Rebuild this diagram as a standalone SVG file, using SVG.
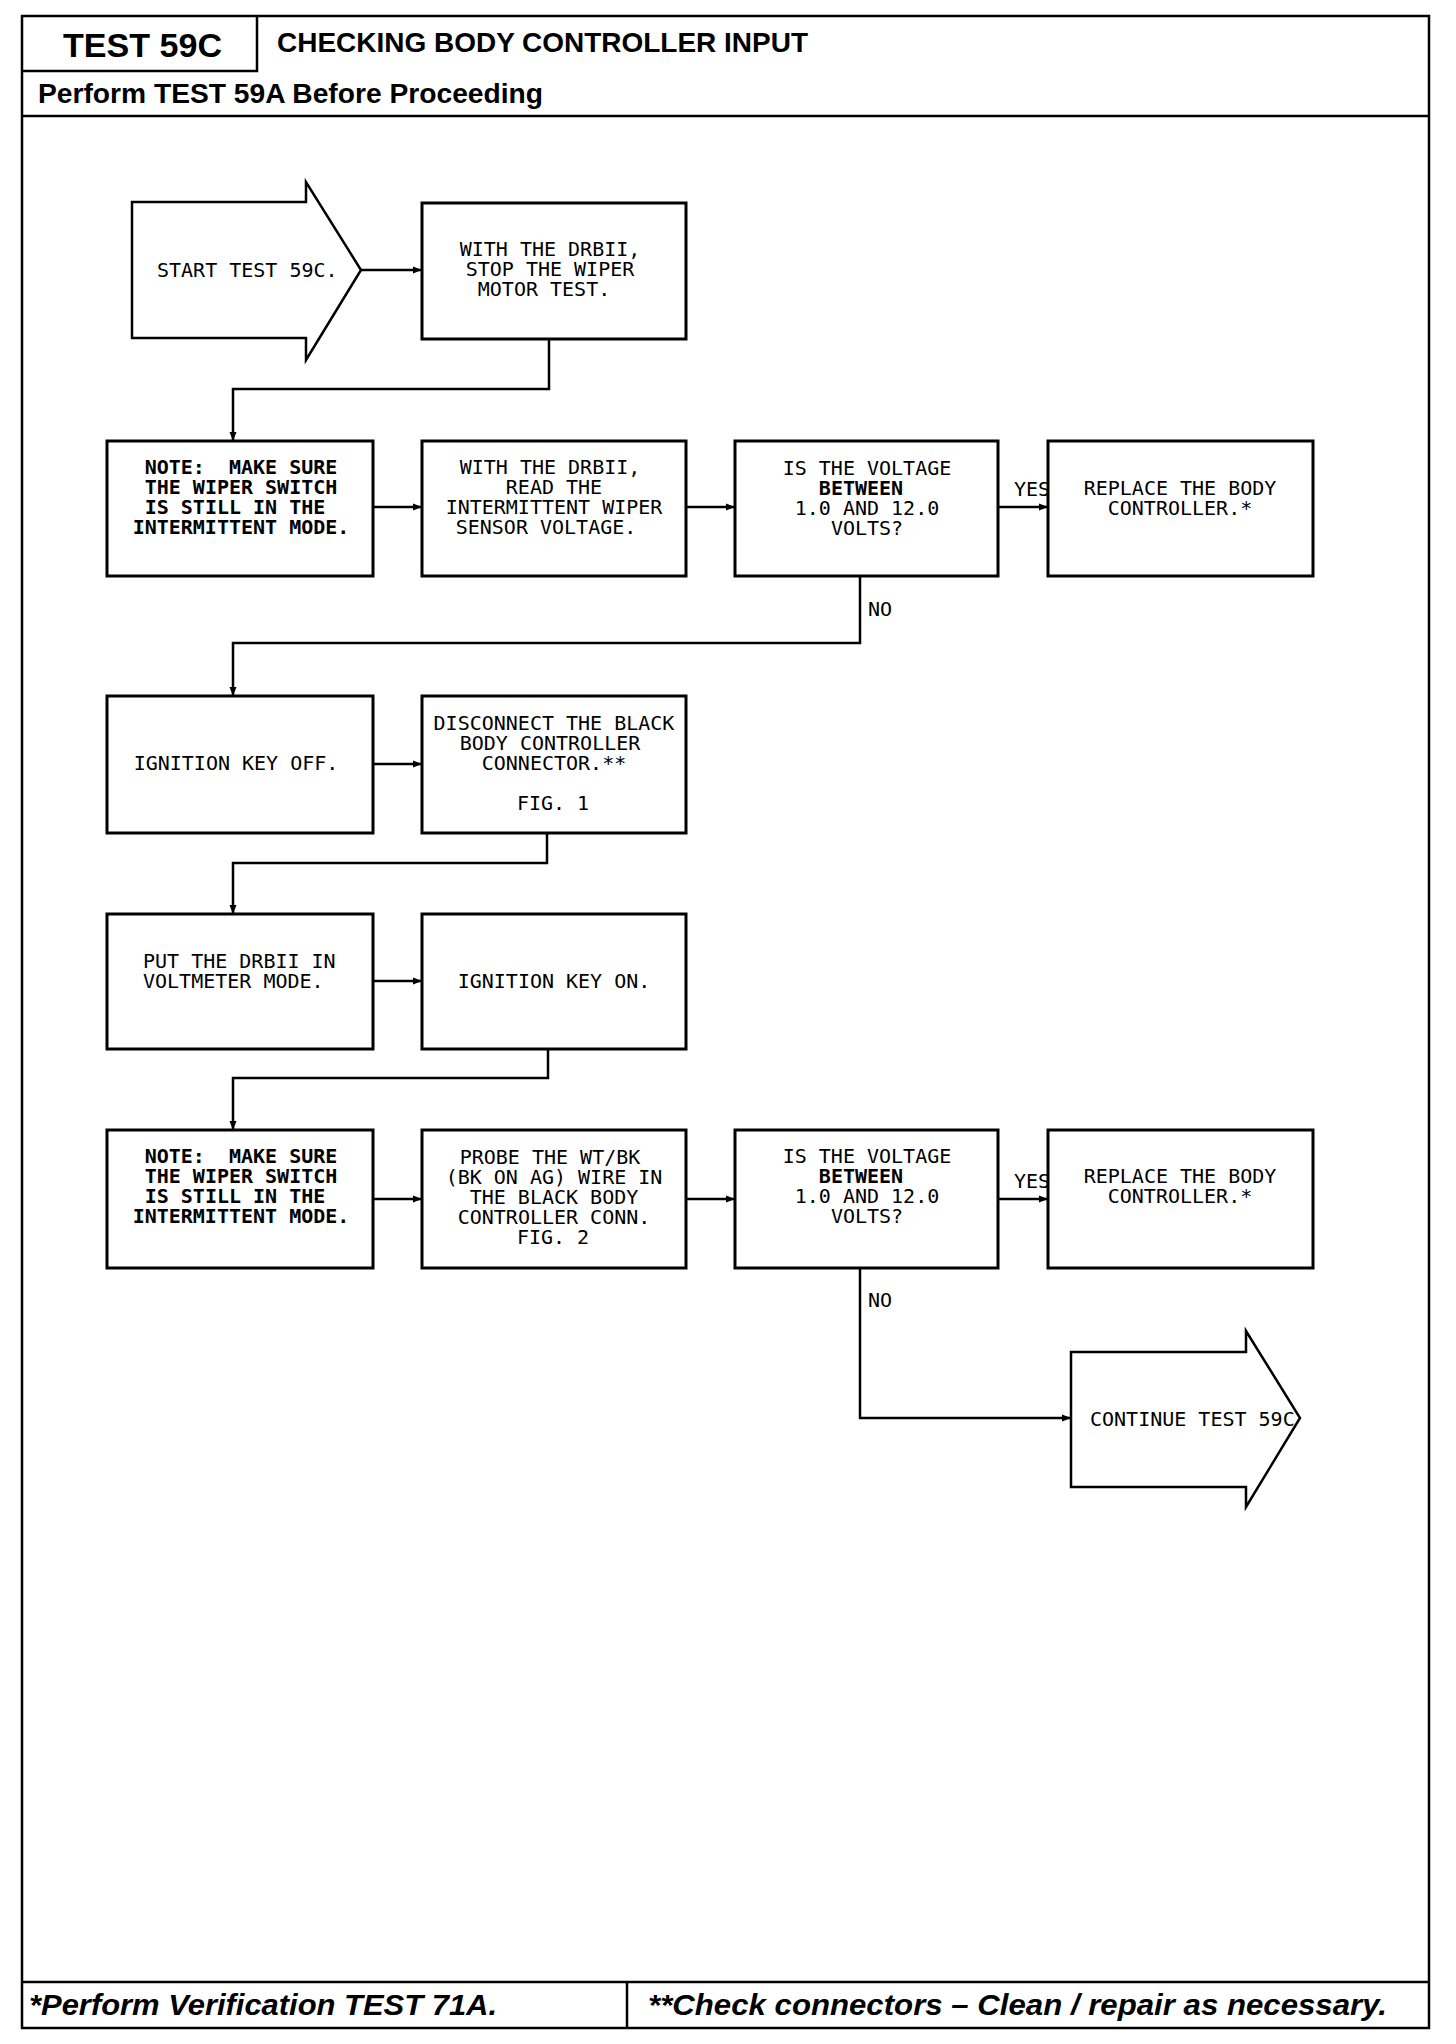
<svg xmlns="http://www.w3.org/2000/svg" width="1456" height="2044" viewBox="0 0 1456 2044">
<style>
.frame{fill:none;stroke:#000;stroke-width:2.5}
.box{fill:#fff;stroke:#000;stroke-width:3}
.shape{fill:#fff;stroke:#000;stroke-width:2.5;stroke-linejoin:miter}
.conn{fill:none;stroke:#000;stroke-width:2.5}
.t{font-family:"DejaVu Sans Mono","Liberation Mono",monospace;font-size:20px;fill:#000;white-space:pre}
.c{text-anchor:middle}
.b{font-weight:bold}
.h{font-family:"Liberation Sans",Arial,sans-serif;font-weight:bold;fill:#000}
.f{font-family:"Liberation Sans",Arial,sans-serif;font-weight:bold;font-style:italic;fill:#000;font-size:30px}
</style>
<defs>
<marker id="ah" markerUnits="userSpaceOnUse" markerWidth="10" markerHeight="8" refX="9" refY="4" orient="auto">
<path d="M0,0.5 L9,4 L0,7.5 z" fill="#000"/>
</marker>
</defs>
<rect width="1456" height="2044" fill="#fff"/>
<g id="frame">
<rect class="frame" x="22" y="16" width="1407" height="2012"/>
<path class="frame" d="M257,16 V71 H22"/>
<path class="frame" d="M22,116 H1429"/>
<path class="frame" d="M22,1982 H1429 M627,1982 V2028"/>
<text class="h" x="63" y="57" font-size="34" textLength="159" lengthAdjust="spacingAndGlyphs">TEST 59C</text>
<text class="h" x="277" y="52" font-size="28" textLength="531" lengthAdjust="spacingAndGlyphs">CHECKING BODY CONTROLLER INPUT</text>
<text class="h" x="38" y="103" font-size="27" textLength="505" lengthAdjust="spacingAndGlyphs">Perform TEST 59A Before Proceeding</text>
<text class="f" x="29" y="2015" textLength="468" lengthAdjust="spacingAndGlyphs">*Perform Verification TEST 71A.</text>
<text class="f" x="648" y="2015" textLength="739" lengthAdjust="spacingAndGlyphs">**Check connectors – Clean / repair as necessary.</text>
</g>
<g id="connectors">
<path class="conn" d="M361,270 H422" marker-end="url(#ah)"/>
<path class="conn" d="M549,339 V389 H233 V441" marker-end="url(#ah)"/>
<path class="conn" d="M373,507 H422" marker-end="url(#ah)"/>
<path class="conn" d="M686,507 H735" marker-end="url(#ah)"/>
<path class="conn" d="M998,507 H1048" marker-end="url(#ah)"/>
<path class="conn" d="M860,576 V643 H233 V696" marker-end="url(#ah)"/>
<path class="conn" d="M373,764 H422" marker-end="url(#ah)"/>
<path class="conn" d="M547,833 V863 H233 V914" marker-end="url(#ah)"/>
<path class="conn" d="M373,981 H422" marker-end="url(#ah)"/>
<path class="conn" d="M548,1049 V1078 H233 V1130" marker-end="url(#ah)"/>
<path class="conn" d="M373,1199 H422" marker-end="url(#ah)"/>
<path class="conn" d="M686,1199 H735" marker-end="url(#ah)"/>
<path class="conn" d="M998,1199 H1048" marker-end="url(#ah)"/>
<path class="conn" d="M860,1268 V1418 H1071" marker-end="url(#ah)"/>
<text class="t" x="1014" y="496">YES</text>
<text class="t" x="868" y="616">NO</text>
<text class="t" x="1014" y="1188">YES</text>
<text class="t" x="868" y="1307">NO</text>
</g>
<g id="start">
<path class="shape" d="M132,202 H306 V182 L361,270 L306,360 V338 H132 Z"/>
<text class="t" x="157" y="277">START TEST 59C.</text>
</g>
<g id="stop-wiper">
<rect class="box" x="422" y="203" width="264" height="136"/>
<text class="t c" x="550" y="256">WITH THE DRBII,</text>
<text class="t c" x="550" y="276">STOP THE WIPER</text>
<text class="t c" x="544" y="296">MOTOR TEST.</text>
</g>
<g id="note-1">
<rect class="box" x="107" y="441" width="266" height="135"/>
<text class="t c b" x="241" y="474">NOTE:  MAKE SURE</text>
<text class="t c b" x="241" y="494">THE WIPER SWITCH</text>
<text class="t c b" x="241" y="514">IS STILL IN THE </text>
<text class="t c b" x="241" y="534">INTERMITTENT MODE.</text>
</g>
<g id="read-voltage">
<rect class="box" x="422" y="441" width="264" height="135"/>
<text class="t c" x="550" y="474">WITH THE DRBII,</text>
<text class="t c" x="554" y="494">READ THE</text>
<text class="t c" x="554" y="514">INTERMITTENT WIPER</text>
<text class="t c" x="546" y="534">SENSOR VOLTAGE.</text>
</g>
<g id="question-1">
<rect class="box" x="735" y="441" width="263" height="135"/>
<text class="t c" x="867" y="475">IS THE VOLTAGE</text>
<text class="t c b" x="861" y="495">BETWEEN</text>
<text class="t c" x="867" y="515">1.0 AND 12.0</text>
<text class="t c" x="867" y="535">VOLTS?</text>
</g>
<g id="replace-1">
<rect class="box" x="1048" y="441" width="265" height="135"/>
<text class="t c" x="1180" y="495">REPLACE THE BODY</text>
<text class="t c" x="1180" y="515">CONTROLLER.*</text>
</g>
<g id="key-off">
<rect class="box" x="107" y="696" width="266" height="137"/>
<text class="t c" x="236" y="770">IGNITION KEY OFF.</text>
</g>
<g id="disconnect">
<rect class="box" x="422" y="696" width="264" height="137"/>
<text class="t c" x="554" y="730">DISCONNECT THE BLACK</text>
<text class="t c" x="550" y="750">BODY CONTROLLER</text>
<text class="t c" x="554" y="770">CONNECTOR.**</text>
<text class="t c" x="553" y="810">FIG. 1</text>
</g>
<g id="voltmeter">
<rect class="box" x="107" y="914" width="266" height="135"/>
<text class="t" x="143" y="968">PUT THE DRBII IN</text>
<text class="t" x="143" y="988">VOLTMETER MODE.</text>
</g>
<g id="key-on">
<rect class="box" x="422" y="914" width="264" height="135"/>
<text class="t c" x="554" y="988">IGNITION KEY ON.</text>
</g>
<g id="note-2">
<rect class="box" x="107" y="1130" width="266" height="138"/>
<text class="t c b" x="241" y="1163">NOTE:  MAKE SURE</text>
<text class="t c b" x="241" y="1183">THE WIPER SWITCH</text>
<text class="t c b" x="241" y="1203">IS STILL IN THE </text>
<text class="t c b" x="241" y="1223">INTERMITTENT MODE.</text>
</g>
<g id="probe">
<rect class="box" x="422" y="1130" width="264" height="138"/>
<text class="t c" x="550" y="1164">PROBE THE WT/BK</text>
<text class="t c" x="554" y="1184">(BK ON AG) WIRE IN</text>
<text class="t c" x="554" y="1204">THE BLACK BODY</text>
<text class="t c" x="554" y="1224">CONTROLLER CONN.</text>
<text class="t c" x="553" y="1244">FIG. 2</text>
</g>
<g id="question-2">
<rect class="box" x="735" y="1130" width="263" height="138"/>
<text class="t c" x="867" y="1163">IS THE VOLTAGE</text>
<text class="t c b" x="861" y="1183">BETWEEN</text>
<text class="t c" x="867" y="1203">1.0 AND 12.0</text>
<text class="t c" x="867" y="1223">VOLTS?</text>
</g>
<g id="replace-2">
<rect class="box" x="1048" y="1130" width="265" height="138"/>
<text class="t c" x="1180" y="1183">REPLACE THE BODY</text>
<text class="t c" x="1180" y="1203">CONTROLLER.*</text>
</g>
<g id="continue">
<path class="shape" d="M1071,1352 H1246 V1331 L1300,1418 L1246,1507 V1487 H1071 Z"/>
<text class="t" x="1090" y="1426">CONTINUE TEST 59C</text>
</g>
</svg>
